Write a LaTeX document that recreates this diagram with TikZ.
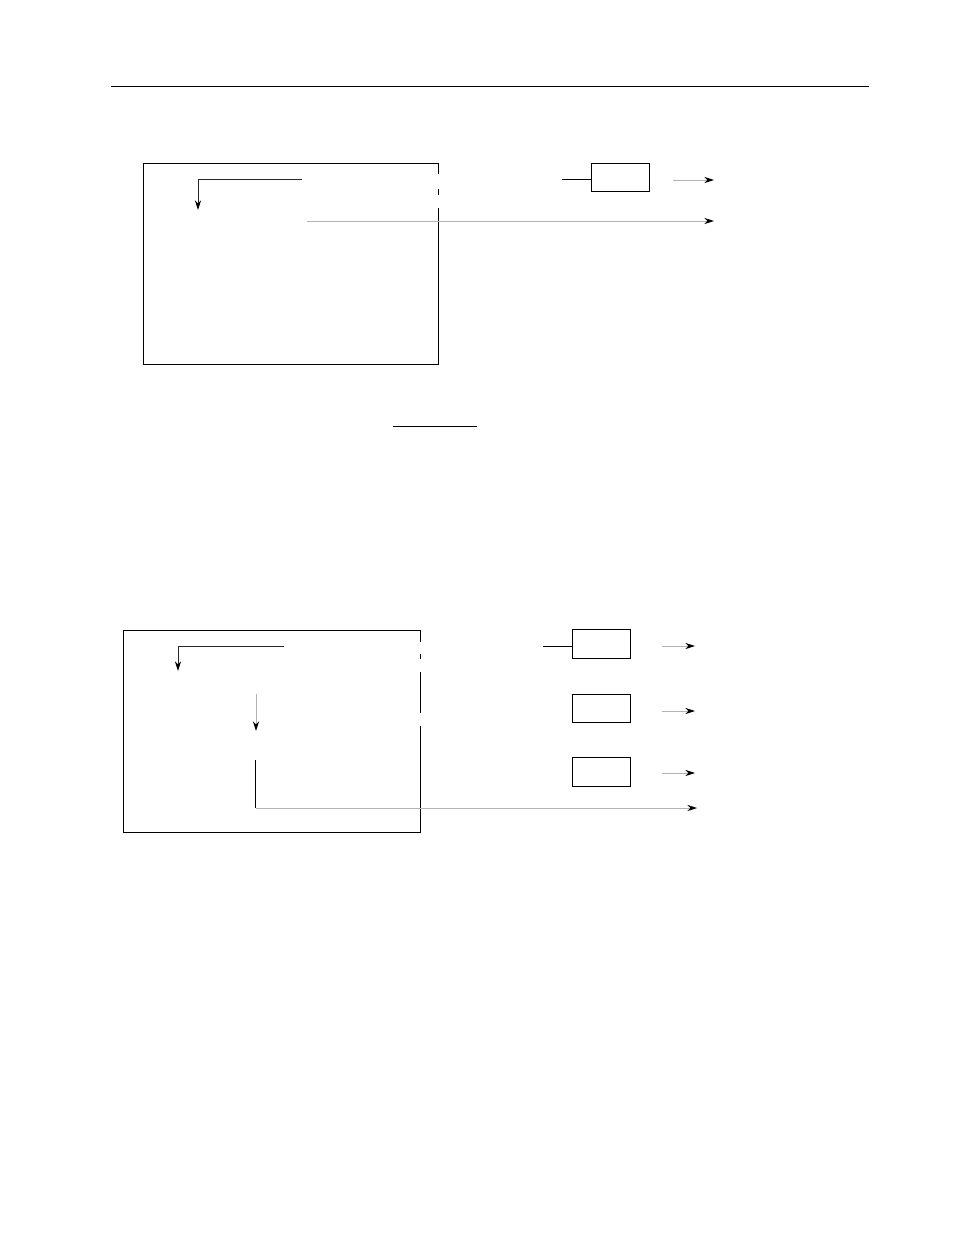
\documentclass[tikz,border=0pt]{standalone}
\usetikzlibrary{arrows.meta}

\begin{document}
\begin{tikzpicture}[x=0.02cm,y=-0.02cm,line width=0.5pt,
  blk/.style={draw,minimum width=1.17cm,minimum height=0.57cm,inner sep=0pt},
  flow/.style={draw=gray!60,-{Stealth[black,length=5.5pt,width=3.5pt]}},
  turn/.style={draw=black!85,-{Stealth[black,length=5.5pt,width=3.5pt]}}]
\useasboundingbox (0,0) rectangle (954,1235);
\draw (111,86) -- (869,86);
\draw (438,174) -- (438,163) -- (143,163) -- (143,364) -- (438,364) -- (438,208);
\draw (438,189) -- (438,195);
\node[blk] (tb) at (620.5,177.5) {};
\coordinate (tin) at (562,179);
\draw (tin) -- (tin -| tb.west);
\coordinate (tout1) at (673,180);
\coordinate (tend1) at (714,180);
\draw[flow] (tout1) -- (tend1);
\coordinate (tl1) at (302,179);
\coordinate (tl2) at (198,179);
\coordinate (tl3) at (198,210);
\draw[turn] (tl1) -- (tl2) -- (tl3);
\coordinate (tout2) at (307,221);
\coordinate (tend2) at (714,221);
\draw[flow] (tout2) -- (tend2);
\draw (393,426) -- (477,426);
\draw (420,642) -- (420,630) -- (123,630) -- (123,832) -- (420,832) -- (420,726);
\draw (420,654) -- (420,659);
\draw (420,672) -- (420,713);
\node[blk] (ba) at (601.5,644) {};
\node[blk] (bb) at (601.5,708.5) {};
\node[blk] (bc) at (601.5,772) {};
\coordinate (bin) at (543,646);
\draw (bin) -- (bin -| ba.west);
\coordinate (bo1) at (662,646);
\coordinate (be1) at (695,646);
\draw[flow] (bo1) -- (be1);
\coordinate (bo2) at (662,711);
\coordinate (be2) at (695,711);
\draw[flow] (bo2) -- (be2);
\coordinate (bo3) at (662,773);
\coordinate (be3) at (695,773);
\draw[flow] (bo3) -- (be3);
\coordinate (bl1) at (284,646);
\coordinate (bl2) at (178,646);
\coordinate (bl3) at (178,671);
\draw[turn] (bl1) -- (bl2) -- (bl3);
\coordinate (bd1) at (256,694);
\coordinate (bd2) at (256,731);
\draw[flow] (bd1) -- (bd2);
\coordinate (bv1) at (255.5,760);
\coordinate (bv2) at (255.5,808);
\coordinate (bv3) at (697,808);
\draw (bv1) -- (bv2);
\draw[flow] (bv2) -- (bv3);
\end{tikzpicture}
\end{document}
